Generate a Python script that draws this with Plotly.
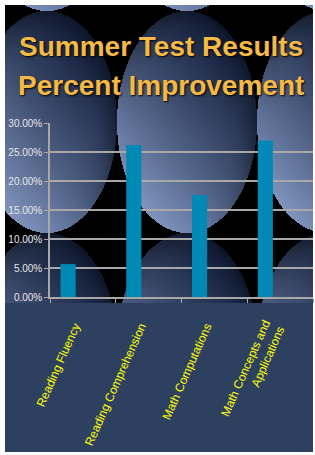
import base64, struct, zlib
import numpy as np
import plotly.graph_objects as go

# ---------------- data ----------------
categories = ["Reading Fluency", "Reading Comprehension", "Math Computations",
              "Math Concepts and<br>Applications"]
improvement = [0.0567, 0.262, 0.176, 0.270]
title_lines = ["Summer Test Results", "Percent Improvement"]

W, H = 315, 455

# ---------------- background picture (decoration) ----------------
def make_background():
    img = np.full((H, W, 3), 255.0)
    yy, xx = np.mgrid[0:H, 0:W] + 0.5
    top_region = (xx >= 5) & (xx < 313) & (yy >= 5) & (yy < 303)
    img[top_region] = 0.0
    dark = np.array([20, 32, 60], float)
    light = np.array([128, 148, 190], float)
    a, b = 70.0, 111.0
    centers = []
    for cy in (-100.0, 122.0, 344.0):
        for cx in (-93.0, 47.0, 187.0, 327.0):
            centers.append((cx, cy))
    for cx, cy in centers:
        u = (xx - cx) / a
        v = (yy - cy) / b
        r2 = u * u + v * v
        inside = (r2 <= 1.0) & top_region
        s = (-0.6 * u + 0.8 * v)
        t = np.clip((s + 1.0) / 2.0, 0, 1) ** 1.25
        rim = np.clip(1.0 - 0.35 * np.clip(r2, 0, 1) ** 3 * np.clip(0.5 - s, 0, 1), 0, 1)
        col = (dark[None, None, :] + (light - dark)[None, None, :] * t[..., None]) * rim[..., None]
        img[inside] = col[inside]
    bottom = (xx >= 5) & (xx < 313) & (yy >= 303) & (yy < 452)
    img[bottom] = [46, 64, 96]
    arr = np.clip(img, 0, 255).astype(np.uint8)
    raw = b"".join(b"\x00" + arr[i].tobytes() for i in range(H))

    def chunk(tag, data):
        c = struct.pack(">I", len(data)) + tag + data
        return c + struct.pack(">I", zlib.crc32(tag + data) & 0xFFFFFFFF)

    png = b"\x89PNG\r\n\x1a\n"
    png += chunk(b"IHDR", struct.pack(">IIBBBBB", W, H, 8, 2, 0, 0, 0))
    png += chunk(b"IDAT", zlib.compress(raw, 9))
    png += chunk(b"IEND", b"")
    return "data:image/png;base64," + base64.b64encode(png).decode()

bg = make_background()

# ---------------- figure ----------------
fig = go.Figure()
fig.add_trace(go.Bar(
    x=categories, y=improvement,
    marker=dict(color="#0089B4", line=dict(width=0)),
    width=0.23, offset=-0.34,
    hoverinfo="x+y",
))

fig.add_layout_image(dict(
    source=bg, xref="paper", yref="paper", x=0, y=1, sizex=1, sizey=1,
    xanchor="left", yanchor="top", sizing="stretch", layer="below",
))

for i, line in enumerate(title_lines):
    fig.add_annotation(
        text=line, xref="paper", yref="paper",
        x=161 / W, y=1 - (47 + 38 * i) / H,
        xanchor="center", yanchor="middle", showarrow=False,
        font=dict(family="Liberation Sans, Arial", size=28, color="#F5B945",
                  weight="bold", shadow="1px 1px 2px #000000"),
    )

fig.update_layout(
    width=W, height=H, autosize=False,
    margin=dict(l=0, r=0, t=0, b=0, pad=0, autoexpand=False),
    paper_bgcolor="white", plot_bgcolor="rgba(0,0,0,0)",
    showlegend=False,
    xaxis=dict(
        domain=[50 / W, 313 / W], automargin=False,
        showline=True, linecolor="#A8A8A8", linewidth=1.5,
        ticks="outside", tickson="boundaries", ticklen=4, tickcolor="#A8A8A8",
        tickangle=-66, showgrid=False,
        ticklabelstandoff=16, ticklabelshift=-8,
        tickfont=dict(family="Liberation Sans, Arial", size=12, color="#FFFF00"),
    ),
    yaxis=dict(
        domain=[(H - 297) / H, (H - 123) / H], automargin=False,
        range=[0, 0.30], dtick=0.05, tickformat=".2%",
        showgrid=True, gridcolor="#A8A8A8", gridwidth=1.5, zeroline=False,
        showline=True, linecolor="#A8A8A8", linewidth=1.5,
        ticks="outside", ticklen=4, tickcolor="#A8A8A8",
        tickfont=dict(family="Liberation Sans, Arial", size=10, color="#E6E6E6"),
    ),
)

fig.write_html(
    "out.html",
    config={"displayModeBar": False},
    post_script=(
        "document.documentElement.style.margin='0';"
        "document.body.style.margin='0';document.body.style.padding='0';"
        "document.documentElement.style.overflow='hidden';"
    ),
)
